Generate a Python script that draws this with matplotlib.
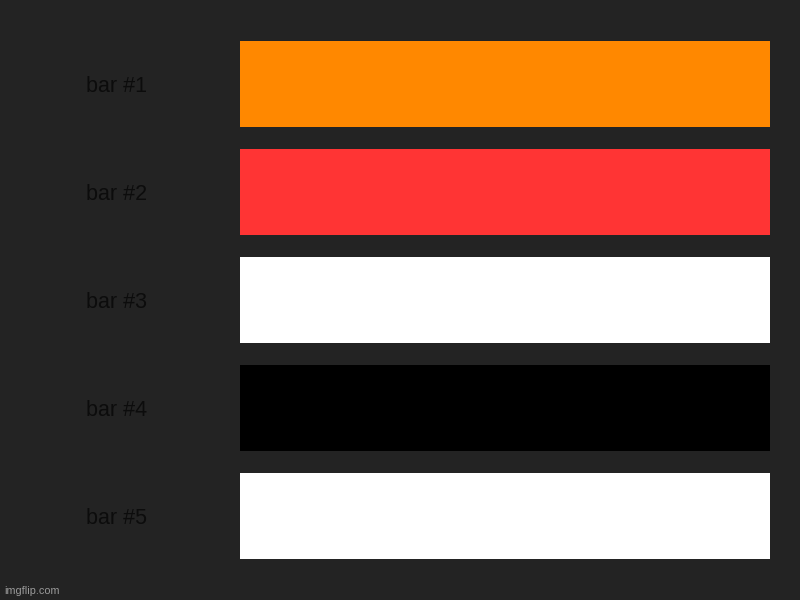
import matplotlib
matplotlib.use("Agg")
import matplotlib.pyplot as plt
from matplotlib.transforms import blended_transform_factory, offset_copy

labels = ["bar #1", "bar #2", "bar #3", "bar #4", "bar #5"]
values = [1, 1, 1, 1, 1]
colors = ["#ff8800", "#ff3434", "#ffffff", "#000000", "#ffffff"]

BG = "#232323"

plt.rcParams["font.family"] = ["Liberation Sans", "DejaVu Sans"]

fig = plt.figure(figsize=(8, 6), dpi=100, facecolor=BG)
ax = fig.add_axes([0.3, 0.05, 0.6625, 0.9])
ax.set_facecolor(BG)

ypos = list(range(len(labels)))
ax.barh(ypos, values, height=0.8, color=colors)
ax.set_xlim(0, 1)
ax.set_ylim(len(labels) - 0.5, -0.5)
ax.axis("off")

# labels sit a touch below the bar centre
trans = blended_transform_factory(fig.transFigure, ax.transData)
trans = offset_copy(trans, fig=fig, y=-3, units="dots")
for y, lab in zip(ypos, labels):
    ax.text(86 / 800, y, lab, transform=trans, ha="left", va="center",
            fontsize=15.5, color="#0c0c0c")

fig.text(4 / 800, 1 - 591 / 600, "imgflip.com", ha="left", va="center",
         fontsize=7.8, color="#9a9a9a")

fig.savefig("out.png", dpi=100, facecolor=BG)
